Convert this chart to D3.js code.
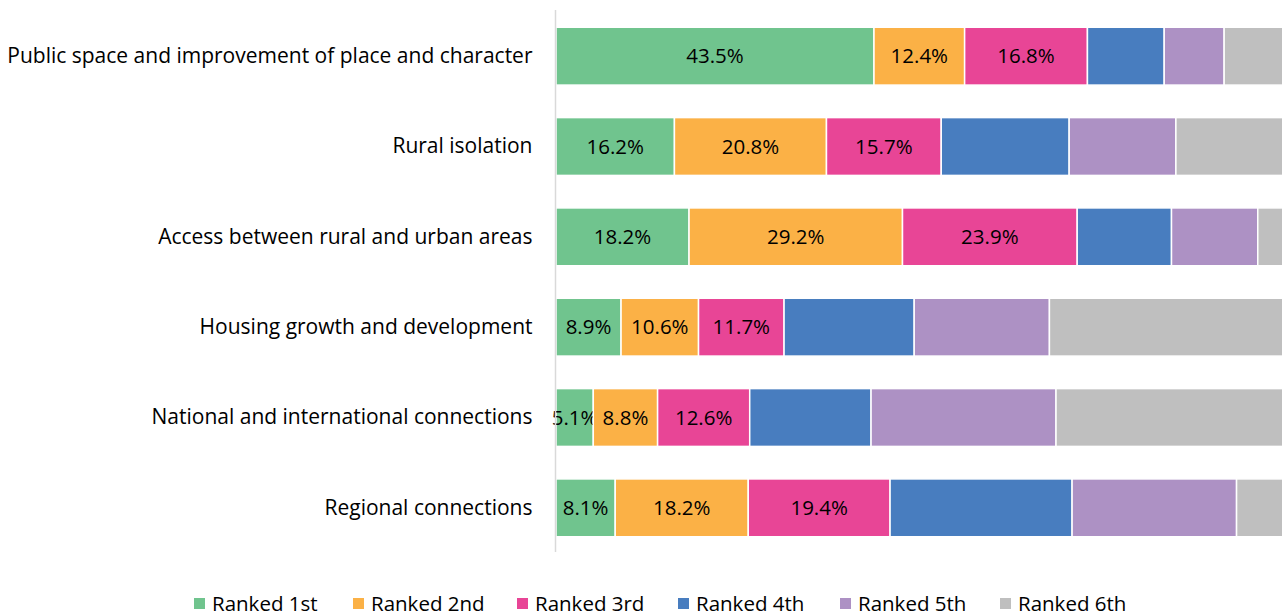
<!DOCTYPE html>
<html>
<head>
<meta charset="utf-8">
<script src="https://cdn.jsdelivr.net/npm/d3@7"></script>
<style>
  body { margin: 0; background: #fff; }
  text { font-family: "Open Sans", sans-serif; fill: #000; }
</style>
</head>
<body>
<svg class="chart"></svg>
<script>
var categories = ["Public space and improvement of place and character", "Rural isolation",
  "Access between rural and urban areas", "Housing growth and development",
  "National and international connections", "Regional connections"];
var seriesNames = ["Ranked 1st", "Ranked 2nd", "Ranked 3rd", "Ranked 4th", "Ranked 5th", "Ranked 6th"];
var rank1 = [43.5, 16.2, 18.2, 8.9, 5.1, 8.1];
var rank2 = [12.4, 20.8, 29.2, 10.6, 8.8, 18.2];
var rank3 = [16.8, 15.7, 23.9, 11.7, 12.6, 19.4];
var rank4 = [10.5, 17.5, 12.9, 17.8, 16.6, 24.9];
var rank5 = [8.2, 14.6, 11.8, 18.5, 25.3, 22.5];
var rank6 = [8.6, 15.2, 4.0, 32.5, 31.6, 6.9];
var colors = ["#70c48e", "#fbb146", "#e84596", "#487dbf", "#ad91c4", "#bfbfbf"];
var labelled = [true, true, true, false, false, false];

var width = 1282,
    height = 615;

var rows = categories.map(function(c, i) {
  return { cat: c, r0: rank1[i], r1: rank2[i], r2: rank3[i], r3: rank4[i], r4: rank5[i], r5: rank6[i] };
});
var keys = ["r0", "r1", "r2", "r3", "r4", "r5"];
var stacked = d3.stack().keys(keys)(rows);

var x = d3.scaleLinear()
    .domain([0, 100])
    .range([556, 1287]);

var y = d3.scaleBand()
    .domain(categories)
    .range([11, 553])
    .paddingInner(0.36)
    .paddingOuter(0.18);

var chart = d3.select(".chart")
    .attr("width", width)
    .attr("height", height);

var layer = chart.selectAll("g.layer")
    .data(stacked)
  .enter().append("g")
    .attr("class", "layer")
    .attr("fill", function(d, i) { return colors[i]; });

layer.selectAll("rect")
    .data(function(d) { return d; })
  .enter().append("rect")
    .attr("x", function(d) { return x(d[0]); })
    .attr("y", function(d) { return y(d.data.cat); })
    .attr("width", function(d) { return x(d[1]) - x(d[0]); })
    .attr("height", y.bandwidth())
    .attr("stroke", "#fff")
    .attr("stroke-width", 1.5);

// data labels, only for the first three ranks
layer.filter(function(d, i) { return labelled[i]; })
  .selectAll("text")
    .data(function(d) { return d; })
  .enter().append("text")
    .attr("x", function(d) { return (x(d[0]) + x(d[1])) / 2; })
    .attr("y", function(d) { return y(d.data.cat) + y.bandwidth() / 2; })
    .attr("dy", "0.35em")
    .attr("text-anchor", "middle")
    .style("font-size", "20.5px")
    .text(function(d) { return (d[1] - d[0]).toFixed(1) + "%"; });

// category axis
var y_axis = d3.axisLeft(y).tickSize(0).tickPadding(23);
var ga = chart.append("g")
  .attr("transform", "translate(555.5,0)")
  .call(y_axis);
ga.select(".domain").attr("stroke", "#d9d9d9").attr("stroke-width", 1.5)
  .attr("d", "M0,10V552");
ga.selectAll("text").style("font-size", "21px").attr("fill", "#000");

// legend
var legendX = [194, 353, 517, 678, 840, 1000];
var legend = chart.selectAll("g.legend")
    .data(seriesNames)
  .enter().append("g")
    .attr("class", "legend")
    .attr("transform", function(d, i) { return "translate(" + legendX[i] + ",598)"; });
legend.append("rect")
  .attr("width", 11)
  .attr("height", 11)
  .attr("fill", function(d, i) { return colors[i]; });
legend.append("text")
  .attr("x", 18)
  .attr("y", 5.5)
  .attr("dy", "0.35em")
  .style("font-size", "20.5px")
  .text(function(d) { return d; });
</script>
</body>
</html>
